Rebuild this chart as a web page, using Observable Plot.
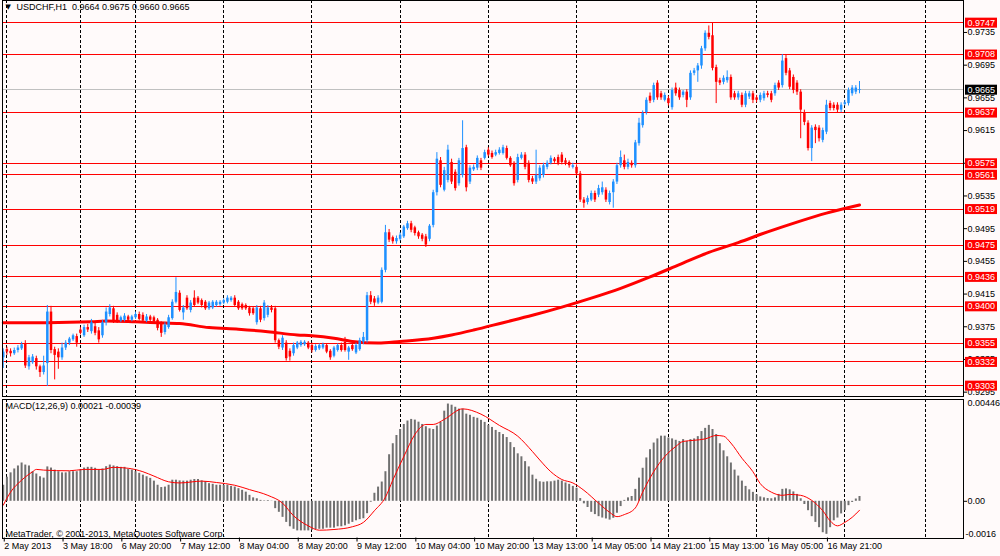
<!DOCTYPE html>
<html><head><meta charset="utf-8">
<script src="https://cdn.jsdelivr.net/npm/d3@7"></script>
<script src="https://cdn.jsdelivr.net/npm/@observablehq/plot@0.6"></script>
<style>
html,body{margin:0;padding:0;background:#fffafa;}
#chart{width:1000px;height:556px;overflow:hidden;background:#fffafa;}
#chart svg{display:block;}
</style></head><body><div id="chart"></div>
<script>
// ---------- data ----------
const symbolTitle = "USDCHF,H1";
const lastBar = ["0.9664", "0.9675", "0.9660", "0.9665"];
const macdTitle = "MACD(12,26,9) 0.00021 -0.00039";
const copyright = "MetaTrader, \u00A9 2001-2013, MetaQuotes Software Corp.";

const open = [
.9337,.9347,.9345,.9342,.9346,.9348,.9354,.9326,.9331,.9336,
.9326,.9319,.9330,.9393,.9347,.9344,.9337,.9349,.9355,.9359,
.9363,.9371,.9364,.9374,.9369,.9375,.9370,.9364,.9380,.9390,
.9397,.9389,.9382,.9383,.9387,.9383,.9386,.9390,.9389,.9382,
.9387,.9386,.9383,.9379,.9368,.9374,.9385,.9405,.9416,.9392,
.9410,.9395,.9410,.9410,.9407,.9405,.9397,.9398,.9401,.9402,
.9404,.9405,.9407,.9410,.9405,.9402,.9401,.9398,.9397,.9380,
.9397,.9385,.9389,.9398,.9397,.9358,.9349,.9355,.9345,.9342,
.9349,.9352,.9353,.9355,.9352,.9346,.9348,.9349,.9352,.9345,
.9339,.9346,.9352,.9356,.9344,.9352,.9343,.9347,.9356,.9358,
.9413,.9409,.9404,.9405,.9444,.9490,.9484,.9479,.9482,.9485,
.9495,.9501,.9496,.9490,.9487,.9485,.9482,.9499,.9539,.9578,
.9542,.9554,.9576,.9564,.9550,.9560,.9594,.9552,.9567,.9569,
.9578,.9581,.9591,.9587,.9585,.9587,.9587,.9593,.9581,.9575,
.9554,.9581,.9585,.9575,.9556,.9552,.9556,.9560,.9570,.9575,
.9580,.9582,.9585,.9578,.9576,.9570,.9570,.9562,.9530,.9527,
.9530,.9538,.9536,.9539,.9542,.9527,.9539,.9552,.9572,.9578,
.9570,.9575,.9572,.9599,.9621,.9637,.9657,.9652,.9673,.9660,
.9652,.9654,.9643,.9667,.9664,.9658,.9662,.9655,.9685,.9688,
.9694,.9715,.9734,.9731,.9692,.9676,.9674,.9676,.9680,.9660,
.9655,.9658,.9646,.9656,.9660,.9655,.9652,.9654,.9660,.9660,
.9660,.9673,.9670,.9703,.9688,.9680,.9673,.9662,.9637,.9624,
.9593,.9619,.9618,.9603,.9613,.9648,.9646,.9646,.9640,.9647,
.9648,.9660,.9662,.9664];
const high = [
.9348,.9350,.9348,.9349,.9352,.9356,.9358,.9340,.9341,.9339,
.9328,.9339,.9401,.9400,.9350,.9348,.9355,.9358,.9362,.9366,
.9366,.9374,.9377,.9378,.9384,.9380,.9374,.9383,.9398,.9402,
.9400,.9392,.9388,.9391,.9389,.9389,.9393,.9393,.9392,.9390,
.9389,.9388,.9385,.9381,.9380,.9389,.9408,.9435,.9419,.9401,
.9413,.9407,.9419,.9412,.9409,.9407,.9406,.9407,.9407,.9407,
.9409,.9413,.9412,.9413,.9407,.9404,.9403,.9400,.9399,.9401,
.9400,.9407,.9401,.9401,.9400,.9360,.9364,.9358,.9348,.9355,
.9357,.9358,.9358,.9357,.9355,.9353,.9354,.9355,.9354,.9347,
.9351,.9354,.9355,.9362,.9351,.9354,.9355,.9361,.9368,.9417,
.9418,.9412,.9413,.9447,.9499,.9494,.9486,.9486,.9490,.9499,
.9504,.9504,.9498,.9492,.9489,.9488,.9500,.9542,.9588,.9582,
.9570,.9597,.9580,.9567,.9581,.9627,.9597,.9572,.9573,.9584,
.9581,.9591,.9594,.9590,.9591,.9594,.9597,.9596,.9583,.9577,
.9586,.9588,.9588,.9578,.9559,.9591,.9572,.9575,.9578,.9584,
.9582,.9585,.9588,.9581,.9578,.9575,.9573,.9565,.9533,.9535,
.9541,.9541,.9548,.9552,.9545,.9541,.9555,.9575,.9590,.9585,
.9580,.9578,.9603,.9630,.9639,.9655,.9661,.9673,.9676,.9663,
.9661,.9657,.9667,.9673,.9667,.9664,.9665,.9688,.9691,.9697,
.9718,.9737,.9743,.9747,.9695,.9679,.9682,.9688,.9683,.9663,
.9663,.9661,.9663,.9663,.9663,.9658,.9661,.9663,.9663,.9663,
.9673,.9676,.9708,.9708,.9691,.9683,.9676,.9665,.9640,.9627,
.9621,.9622,.9621,.9618,.9652,.9651,.9649,.9649,.9649,.9652,
.9667,.9670,.9670,.9675];
const low = [
.9324,.9340,.9338,.9340,.9343,.9346,.9324,.9322,.9329,.9322,
.9313,.9316,.9302,.9342,.9310,.9323,.9334,.9346,.9352,.9357,
.9350,.9365,.9362,.9368,.9366,.9364,.9355,.9361,.9376,.9387,
.9379,.9379,.9380,.9381,.9381,.9381,.9384,.9382,.9380,.9380,
.9381,.9379,.9370,.9362,.9365,.9372,.9383,.9403,.9393,.9383,
.9395,.9392,.9399,.9402,.9398,.9395,.9395,.9396,.9399,.9400,
.9402,.9403,.9405,.9399,.9395,.9395,.9395,.9388,.9389,.9377,
.9380,.9382,.9386,.9392,.9355,.9347,.9346,.9333,.9333,.9339,
.9347,.9350,.9351,.9347,.9343,.9344,.9346,.9347,.9342,.9334,
.9337,.9344,.9344,.9344,.9334,.9345,.9341,.9345,.9353,.9355,
.9402,.9400,.9402,.9403,.9441,.9478,.9476,.9476,.9480,.9483,
.9493,.9490,.9486,.9482,.9479,.9472,.9479,.9496,.9535,.9545,
.9540,.9551,.9549,.9541,.9547,.9557,.9540,.9549,.9565,.9566,
.9566,.9579,.9583,.9580,.9583,.9585,.9585,.9579,.9570,.9547,
.9551,.9579,.9567,.9551,.9549,.9549,.9553,.9557,.9567,.9573,
.9575,.9572,.9573,.9572,.9569,.9568,.9559,.9527,.9520,.9524,
.9528,.9527,.9533,.9536,.9527,.9524,.9520,.9549,.9569,.9567,
.9567,.9569,.9569,.9596,.9618,.9634,.9648,.9649,.9652,.9652,
.9650,.9645,.9640,.9657,.9652,.9655,.9643,.9652,.9682,.9674,
.9690,.9712,.9726,.9688,.9648,.9670,.9671,.9673,.9652,.9652,
.9652,.9643,.9643,.9653,.9648,.9649,.9649,.9651,.9655,.9649,
.9657,.9664,.9667,.9682,.9665,.9660,.9658,.9605,.9621,.9590,
.9577,.9599,.9601,.9600,.9610,.9639,.9639,.9637,.9637,.9645,
.9645,.9657,.9659,.9660];
const close = [
.9344,.9344,.9342,.9346,.9349,.9353,.9327,.9337,.9338,.9326,
.9319,.9327,.9393,.9346,.9340,.9337,.9349,.9355,.9360,.9364,
.9355,.9367,.9374,.9371,.9380,.9367,.9359,.9380,.9393,.9398,
.9382,.9382,.9386,.9388,.9383,.9387,.9390,.9384,.9382,.9387,
.9383,.9381,.9373,.9367,.9377,.9386,.9405,.9417,.9395,.9398,
.9397,.9404,.9401,.9404,.9401,.9397,.9404,.9405,.9405,.9405,
.9407,.9410,.9410,.9401,.9397,.9397,.9397,.9391,.9391,.9398,
.9383,.9404,.9398,.9395,.9358,.9350,.9361,.9336,.9338,.9352,
.9355,.9356,.9356,.9349,.9346,.9351,.9352,.9353,.9344,.9337,
.9349,.9352,.9346,.9346,.9349,.9347,.9352,.9358,.9362,.9413,
.9405,.9404,.9410,.9444,.9490,.9481,.9479,.9483,.9487,.9497,
.9501,.9493,.9489,.9485,.9482,.9475,.9498,.9539,.9580,.9548,
.9566,.9591,.9552,.9544,.9578,.9593,.9545,.9569,.9570,.9581,
.9569,.9588,.9585,.9582,.9588,.9591,.9594,.9581,.9572,.9550,
.9582,.9585,.9570,.9554,.9552,.9560,.9569,.9572,.9575,.9581,
.9577,.9575,.9576,.9575,.9572,.9572,.9562,.9530,.9526,.9532,
.9538,.9530,.9544,.9545,.9530,.9538,.9552,.9572,.9582,.9570,
.9576,.9572,.9600,.9624,.9636,.9652,.9651,.9670,.9655,.9655,
.9658,.9648,.9664,.9660,.9655,.9662,.9652,.9685,.9688,.9694,
.9715,.9734,.9729,.9691,.9674,.9673,.9679,.9680,.9655,.9655,
.9660,.9646,.9660,.9660,.9652,.9652,.9658,.9660,.9658,.9652,
.9670,.9667,.9700,.9685,.9668,.9664,.9662,.9640,.9625,.9593,
.9618,.9615,.9605,.9615,.9646,.9642,.9642,.9640,.9646,.9649,
.9664,.9667,.9667,.9665];

// moving average (read at selected bars)
const maBar = [0,12,24,28,36,42,48,56,64,72,80,84,90,95,102,108,117,122,128,136,144,152,160,168,176,184,192,200,208,216,224,233];
const maValue = [0.9380,0.9380,0.9381,0.9382,0.9381,0.9380,0.9379,0.9374,0.9372,0.9369,0.9365,0.9364,0.9361,0.9357,0.9355,0.9357,0.9361,0.9365,0.9371,0.9380,0.9389,0.9399,0.9410,0.9422,0.9436,0.9451,0.9466,0.9478,0.9491,0.9503,0.9514,0.9524];

// MACD main histogram, one value per bar
const macdHist = [
0.00070,0.00105,0.00124,0.00141,0.00154,0.00167,0.00158,0.00154,0.00129,0.00119,
0.00107,0.00101,0.00150,0.00145,0.00136,0.00129,0.00124,0.00124,0.00129,0.00129,
0.00129,0.00136,0.00145,0.00148,0.00148,0.00144,0.00136,0.00141,0.00151,0.00158,
0.00154,0.00151,0.00148,0.00148,0.00139,0.00136,0.00129,0.00122,0.00114,0.00107,
0.00100,0.00088,0.00070,0.00060,0.00062,0.00070,0.00092,0.00092,0.00089,0.00088,
0.00088,0.00092,0.00095,0.00095,0.00089,0.00085,0.00077,0.00074,0.00070,0.00070,
0.00070,0.00070,0.00065,0.00062,0.00055,0.00048,0.00040,0.00026,0.00015,0.00011,
0.00004,0.00002,0.00003,0.00001,-0.00032,-0.00048,-0.00070,-0.00092,-0.00111,-0.00122,
-0.00129,-0.00129,-0.00129,-0.00129,-0.00126,-0.00123,-0.00122,-0.00122,-0.00117,-0.00117,
-0.00117,-0.00111,-0.00111,-0.00107,-0.00100,-0.00092,-0.00085,-0.00080,-0.00076,-0.00054,
-0.00004,0.00035,0.00062,0.00084,0.00129,0.00203,0.00251,0.00287,0.00313,0.00335,
0.00350,0.00357,0.00354,0.00345,0.00335,0.00325,0.00316,0.00313,0.00328,0.00344,
0.00393,0.00424,0.00419,0.00410,0.00402,0.00402,0.00380,0.00375,0.00366,0.00362,
0.00353,0.00344,0.00331,0.00322,0.00309,0.00300,0.00291,0.00278,0.00256,0.00234,
0.00207,0.00194,0.00173,0.00150,0.00114,0.00096,0.00085,0.00083,0.00085,0.00085,
0.00088,0.00092,0.00088,0.00080,0.00074,0.00065,0.00057,0.00012,-0.00011,-0.00027,
-0.00048,-0.00058,-0.00067,-0.00073,-0.00077,-0.00082,-0.00074,-0.00052,-0.00023,0.00004,
0.00015,0.00021,0.00052,0.00101,0.00144,0.00189,0.00225,0.00254,0.00272,0.00284,
0.00284,0.00276,0.00272,0.00266,0.00261,0.00269,0.00261,0.00269,0.00272,0.00282,
0.00304,0.00318,0.00331,0.00313,0.00291,0.00251,0.00220,0.00194,0.00167,0.00136,
0.00110,0.00088,0.00065,0.00050,0.00039,0.00028,0.00019,0.00015,0.00012,0.00011,
0.00015,0.00030,0.00052,0.00054,0.00050,0.00041,0.00030,0.00011,-0.00014,-0.00041,
-0.00067,-0.00092,-0.00115,-0.00137,-0.00144,-0.00115,-0.00085,-0.00073,-0.00055,-0.00041,
-0.00019,-0.00005,0.00010,0.00021];

// MACD signal line (read at selected bars)
const signalBar = [0,2,5,8,9,11,18,22,27,30,34,38,41,45,48,54,58,63,67,72,76,79,83,86,90,95,98,101,104,106,109,112,115,117,120,125,130,135,140,144,146,149,152,155,158,162,165,167,169,172,174,177,180,183,185,188,191,194,196,198,201,204,206,209,212,214,217,220,223,225,227,229,231,233];
const signalValue = [-0.00017,0.00040,0.00092,0.00129,0.00139,0.00136,0.00133,0.00139,0.00139,0.00148,0.00144,0.00129,0.00110,0.00085,0.00080,0.00088,0.00082,0.00070,0.00051,0.00026,-0.00008,-0.00063,-0.00107,-0.00126,-0.00123,-0.00111,-0.00092,-0.00041,0.00018,0.00092,0.00195,0.00291,0.00335,0.00335,0.00357,0.00403,0.00380,0.00331,0.00284,0.00217,0.00180,0.00129,0.00095,0.00080,0.00048,-0.00008,-0.00048,-0.00067,-0.00058,-0.00029,0.00040,0.00129,0.00195,0.00239,0.00261,0.00266,0.00272,0.00287,0.00284,0.00254,0.00188,0.00129,0.00077,0.00040,0.00026,0.00030,0.00026,0.00004,-0.00041,-0.00085,-0.00107,-0.00092,-0.00070,-0.00039];

// horizontal levels, bid, axis ticks
const levels = [0.9747,0.9708,0.9637,0.9575,0.9561,0.9519,0.9475,0.9436,0.9400,0.9355,0.9332,0.9303];
const bid = 0.9665;
const priceTicks = [0.9735,0.9695,0.9655,0.9615,0.9575,0.9535,0.9495,0.9455,0.9415,0.9375,0.9335,0.9295];
const priceRange = [0.92897, 0.97741];
const macdRange = [-0.0016, 0.00446];
const macdLabels = ["0.00446", "0.00", "-0.0016"];

// time axis (bar indices) and day separators
const timeTickBar = [0,16,32,48,64,80,96,112,128,144,160,176,192,208,224];
const timeTickLabel = ["2 May 2013","3 May 18:00","6 May 20:00","7 May 12:00","8 May 04:00","8 May 20:00","9 May 12:00","10 May 04:00","10 May 20:00","13 May 13:00","14 May 05:00","14 May 21:00","15 May 13:00","16 May 05:00","16 May 21:00"];
const daySeparatorBar = [1,21,36,60,84,108,132,156,181,205,229,251];

// ---------- build ----------
const bull = "#1e90ff", bear = "#ff0000";
const bars = open.map((o, i) => ({i, o, h: high[i], l: low[i], c: close[i], col: close[i] >= o ? bull : bear}));
const ma = maBar.map((b, k) => ({i: b, v: maValue[k]}));
const hist = macdHist.map((v, i) => ({i, v}));
const signal = signalBar.map((b, k) => ({i: b, v: signalValue[k]}));

const xDomain = [-0.2, 261.3];
const pxIdx = (xDomain[1] - xDomain[0]) / 961;
const boxX1 = xDomain[1] + 2 * pxIdx, boxX2 = xDomain[1] + 34 * pxIdx;
const font = "'Liberation Sans', Arial, sans-serif";
const style = {fontFamily: font, fontSize: "9px", background: "#fffafa", color: "#000", overflow: "visible"};
const fmt4 = d => d.toFixed(4);
const crisp = {shapeRendering: "crispEdges"};

const main = Plot.plot({
  width: 1000, height: 398,
  marginLeft: 2, marginRight: 37, marginTop: 0, marginBottom: 2,
  style,
  x: {domain: xDomain, axis: null},
  y: {domain: priceRange},
  marks: [
    Plot.ruleY(levels, {stroke: "#ff0000", strokeWidth: 1, ...crisp}),
    Plot.ruleY([bid], {stroke: "#c0c0c0", strokeWidth: 1, ...crisp}),
    Plot.ruleX(daySeparatorBar, {stroke: "#000", strokeDasharray: "3,2", strokeWidth: 1, ...crisp}),
    Plot.line(ma, {x: "i", y: "v", stroke: "#ff0000", strokeWidth: 3, curve: "monotone-x"}),
    Plot.ruleX(bars, {x: "i", y1: "l", y2: "h", stroke: "col", strokeWidth: 1}),
    Plot.ruleX(bars, {x: "i", y1: "o", y2: "c", stroke: "col", strokeWidth: 2.5}),
    Plot.frame({stroke: "#000", ...crisp}),
    Plot.axisY({anchor: "right", ticks: priceTicks, tickFormat: fmt4, tickSize: 3, tickPadding: 1, label: null, fontSize: 9}),
    Plot.ruleY(levels, {x1: boxX1, x2: boxX2, stroke: "#ff0000", strokeWidth: 10}),
    Plot.ruleY([bid], {x1: boxX1, x2: boxX2, stroke: "#000", strokeWidth: 10}),
    Plot.text(levels.concat([bid]), {x: xDomain[1], y: d => d, dx: 4, text: fmt4, fill: "#fff", textAnchor: "start", fontSize: 9}),
    Plot.text(["\u25BC"], {frameAnchor: "top-left", dx: 3, dy: 4, lineAnchor: "top", textAnchor: "start", fontSize: 7, fontFamily: "DejaVu Sans"}),
    Plot.text([symbolTitle + "  " + lastBar.join(" ")], {frameAnchor: "top-left", dx: 14, dy: 3, lineAnchor: "top", textAnchor: "start", fontSize: 9})
  ]
});

const macd = Plot.plot({
  width: 1000, height: 158,
  marginLeft: 2, marginRight: 37, marginTop: 0.5, marginBottom: 18.5,
  style,
  x: {domain: xDomain},
  y: {domain: macdRange},
  marks: [
    Plot.ruleX(daySeparatorBar, {stroke: "#000", strokeDasharray: "3,2", strokeWidth: 1, ...crisp}),
    Plot.ruleX(hist, {x: "i", y1: 0, y2: "v", stroke: "#707070", strokeWidth: 2}),
    Plot.line(signal, {x: "i", y: "v", stroke: "#ff0000", strokeWidth: 1, curve: "monotone-x"}),
    Plot.frame({stroke: "#000", ...crisp}),
    Plot.axisX({ticks: timeTickBar, tickFormat: d => timeTickLabel[timeTickBar.indexOf(d)], tickSize: 4, tickPadding: 1, textAnchor: "start", dx: 1, label: null, fontSize: 9}),
    Plot.axisY({anchor: "right", ticks: [0], tickFormat: () => macdLabels[1], tickSize: 3, tickPadding: 1, label: null, fontSize: 9}),
    Plot.text([macdRange[1]], {x: xDomain[1], y: d => d, dx: 4, dy: 1, lineAnchor: "top", text: () => macdLabels[0], textAnchor: "start", fontSize: 9}),
    Plot.text([macdRange[0]], {x: xDomain[1], y: d => d, dx: 2, dy: -1, lineAnchor: "bottom", text: () => macdLabels[2], textAnchor: "start", fontSize: 9}),
    Plot.text([macdTitle], {frameAnchor: "top-left", dx: 3, dy: 4, lineAnchor: "top", textAnchor: "start", fontSize: 9}),
    Plot.text([copyright], {frameAnchor: "bottom-left", dx: 3, dy: -1, lineAnchor: "bottom", textAnchor: "start", fontSize: 9})
  ]
});

const root = document.getElementById("chart");
root.appendChild(main);
root.appendChild(macd);
</script>
</body></html>
